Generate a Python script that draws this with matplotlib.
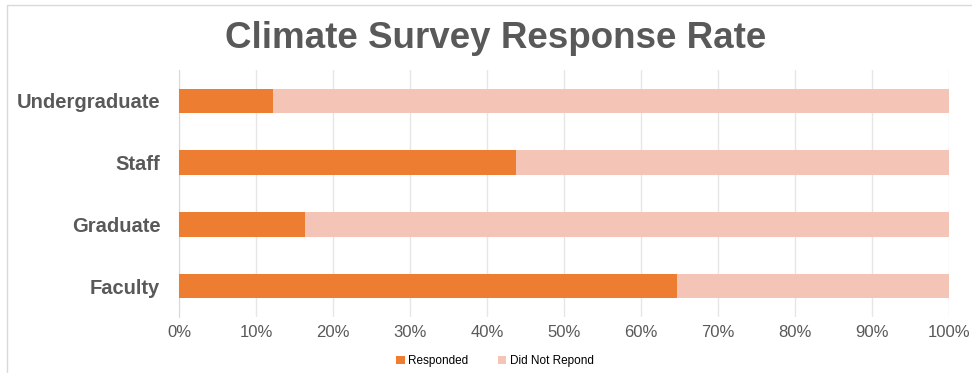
import matplotlib.pyplot as plt
import matplotlib.patches as mpatches
from matplotlib import font_manager
import numpy as np

plt.rcParams['font.family'] = ['Liberation Sans', 'DejaVu Sans']

groups = ["Faculty", "Graduate", "Staff", "Undergraduate"]
responded = [64.7, 16.3, 43.8, 12.2]
not_responded = [100 - v for v in responded]
ticks = list(range(0, 101, 10))
tick_labels = [f"{t}%" for t in ticks]

orange = "#ED7D31"
peach = "#F4C5B6"
gray = "#595959"

W, H = 972, 373
fig = plt.figure(figsize=(W / 100, H / 100), dpi=100)
ax = fig.add_axes([179 / W, 1 - 317 / H, (949 - 179) / W, (317 - 70) / H])

# thin chart border
fig.patches.append(mpatches.Rectangle((7 / W, -0.1), 1.2, 1 - 5 / H + 0.1,
                                      transform=fig.transFigure, fill=False,
                                      edgecolor="#D9D9D9", linewidth=1))

y = np.arange(len(groups))
ax.barh(y, responded, height=0.4, color=orange, label="Responded", zorder=3)
ax.barh(y, not_responded, left=responded, height=0.4, color=peach,
        label="Did Not Repond", zorder=3)

ax.set_xlim(0, 100)
ax.set_ylim(-0.5, 3.5)
ax.set_xticks(ticks)
ax.set_xticklabels(tick_labels, fontsize=12, color=gray)
ax.set_yticks(y)
ax.set_yticklabels(groups, fontsize=14.5, fontweight="bold", color=gray)
ax.tick_params(length=0)
ax.tick_params(axis="x", pad=6)
ax.tick_params(axis="y", pad=13.5)
ax.grid(axis="x", color="#E6E6E6", linewidth=1, zorder=0)
for s in ["top", "right", "bottom"]:
    ax.spines[s].set_visible(False)
ax.spines["left"].set_color("#D9D9D9")

names = {f.name for f in font_manager.fontManager.ttflist}
title_font = "Liberation Sans Narrow" if "Liberation Sans Narrow" in names else "Liberation Sans"
title_size = 32 if title_font == "Liberation Sans Narrow" else 26.5
fig.text(496 / W, 1 - 38 / H, "Climate Survey Response Rate", ha="center",
         va="center", fontsize=title_size, fontweight="bold", color=gray,
         family=[title_font, "DejaVu Sans"])

fig.legend(loc="center", bbox_to_anchor=(495 / W, 1 - 361 / H), ncol=2,
           frameon=False, fontsize=8.5, handlelength=0.7, handleheight=0.7,
           columnspacing=2.5, handletextpad=0.3)

fig.savefig("out.png", dpi=100)
